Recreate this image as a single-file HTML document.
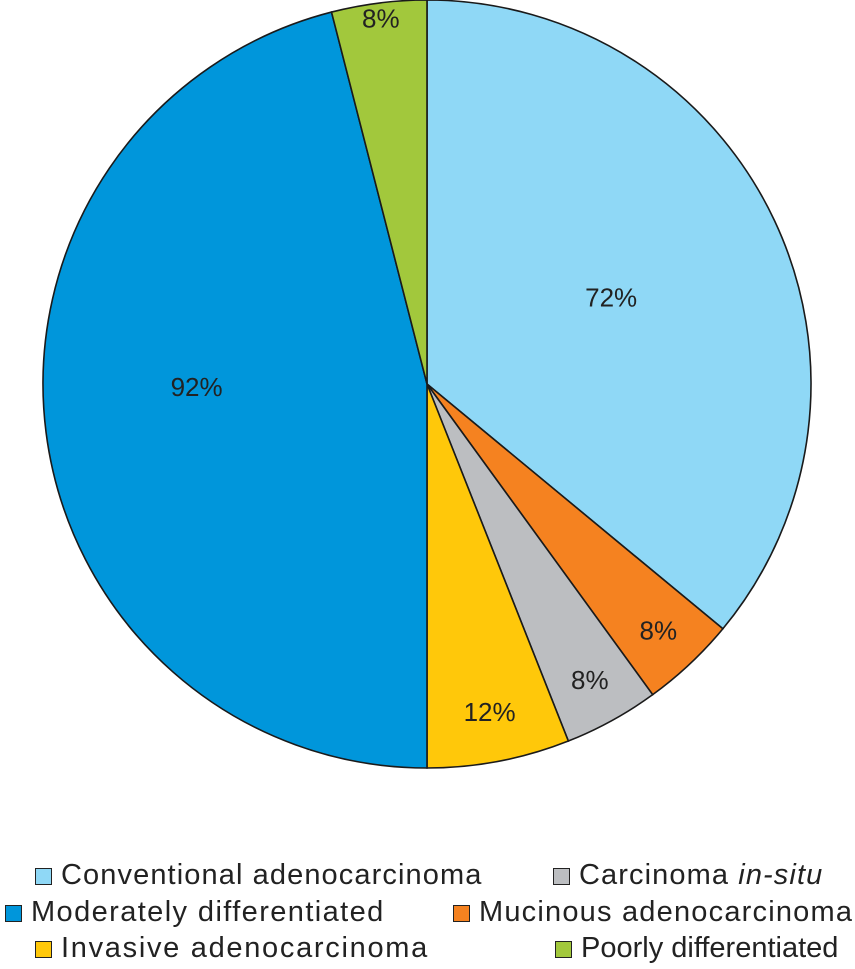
<!DOCTYPE html>
<html><head><meta charset="utf-8">
<style>
html,body{margin:0;padding:0;background:#fff;}
body{width:855px;height:969px;position:relative;overflow:hidden;font-family:"Liberation Sans",sans-serif;}
svg{position:absolute;left:0;top:0;}
.leg{position:absolute;font-size:29px;letter-spacing:1.1px;color:#222;white-space:nowrap;line-height:30px;}
.sw{display:inline-block;width:17px;height:17px;border:1.5px solid #222;box-sizing:border-box;margin-right:9px;vertical-align:-1px;}
</style></head>
<body>
<svg id="chart" width="855" height="860"></svg>
<div class="leg" style="left:35px;top:860px"><span class="sw" style="background:#8fd8f6"></span>Conventional adenocarcinoma</div>
<div class="leg" style="left:553px;top:860px"><span class="sw" style="background:#bcbec1"></span>Carcinoma <i>in-situ</i></div>
<div class="leg" style="left:5px;top:897px;letter-spacing:1.4px"><span class="sw" style="background:#0096db"></span>Moderately differentiated</div>
<div class="leg" style="left:453px;top:897px;letter-spacing:1.2px"><span class="sw" style="background:#f58220"></span>Mucinous adenocarcinoma</div>
<div class="leg" style="left:35px;top:933px;letter-spacing:1.7px"><span class="sw" style="background:#ffc80a"></span>Invasive adenocarcinoma</div>
<div class="leg" style="left:555px;top:933px;letter-spacing:0px"><span class="sw" style="background:#a2c83c"></span>Poorly differentiated</div>
<script>
const categories = ["Conventional adenocarcinoma","Mucinous adenocarcinoma","Carcinoma in-situ","Invasive adenocarcinoma","Moderately differentiated","Poorly differentiated"];
const values = [72, 8, 8, 12, 92, 8];
const valueLabels = ["72%","8%","8%","12%","92%","8%"];
const colors = ["#8fd8f6","#f58220","#bcbec1","#ffc80a","#0096db","#a2c83c"];
const labelFrac = [0.53, 0.88, 0.88, 0.87, 0.60, 0.96];
const labelShiftDeg = [0, 0, 0, 0, 6.5, 0];
const cx=427, cy=384, R=384;
const svg=document.getElementById('chart');
const NS='http://www.w3.org/2000/svg';
const total=values.reduce((a,b)=>a+b,0);
function pt(angle,r){return [cx+r*Math.sin(angle), cy-r*Math.cos(angle)];}
let a0=0;
values.forEach((v,i)=>{
  const a1=a0+v/total*2*Math.PI;
  const p0=pt(a0,R), p1=pt(a1,R);
  const large=(a1-a0)>Math.PI?1:0;
  const path=document.createElementNS(NS,'path');
  path.setAttribute('d',`M${cx},${cy} L${p0[0]},${p0[1]} A${R},${R} 0 ${large} 1 ${p1[0]},${p1[1]} Z`);
  path.setAttribute('fill',colors[i]);
  path.setAttribute('stroke','#1a1a1a');
  path.setAttribute('stroke-width','1.6');
  
  
  svg.appendChild(path);
  a0=a1;
});
a0=0;
values.forEach((v,i)=>{
  const a1=a0+v/total*2*Math.PI;
  const m=(a0+a1)/2+labelShiftDeg[i]*Math.PI/180;
  const p=pt(m,R*labelFrac[i]);
  const t=document.createElementNS(NS,'text');
  t.setAttribute('x',p[0]);t.setAttribute('y',p[1]+9);
  t.setAttribute('text-anchor','middle');
  t.setAttribute('font-size','26');
  t.setAttribute('font-family','Liberation Sans, sans-serif');
  t.setAttribute('fill','#222');
  t.textContent=valueLabels[i];
  
  
  svg.appendChild(t);
  a0=a1;
});
</script>
</body></html>
